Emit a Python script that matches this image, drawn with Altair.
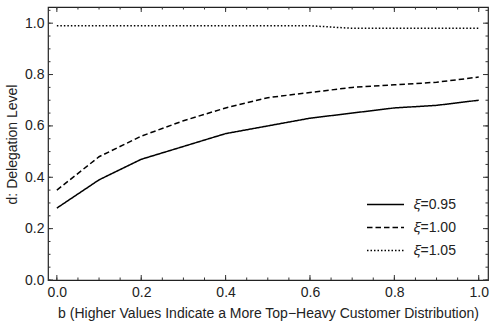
import altair as alt
import pandas as pd

# b values shared by all three curves
b_vals = [0.0, 0.1, 0.2, 0.3, 0.4, 0.5, 0.6, 0.7, 0.8, 0.9, 1.0]

# delegation level d for each xi
d_095 = [0.28, 0.39, 0.47, 0.52, 0.57, 0.60, 0.63, 0.65, 0.67, 0.68, 0.70]
d_100 = [0.35, 0.48, 0.56, 0.62, 0.67, 0.71, 0.73, 0.75, 0.76, 0.77, 0.79]
d_105 = [0.99, 0.99, 0.99, 0.99, 0.99, 0.99, 0.99, 0.98, 0.98, 0.98, 0.98]

series_names = ["\U0001D709=0.95", "\U0001D709=1.00", "\U0001D709=1.05"]
series_dash = [[1, 0], [5.5, 3], [1.5, 2]]

# tick positions for the inward frame ticks
major_ticks = [0.0, 0.2, 0.4, 0.6, 0.8, 1.0]
x_minor_ticks = [round(i * 0.05, 2) for i in range(0, 21)]
y_minor_ticks = [round(i * 0.05, 2) for i in range(0, 22)]

W, H = 440, 273
FONT = "Liberation Sans"
FS = 14

rows = []
for name, ys in zip(series_names, [d_095, d_100, d_105]):
    for b, d in zip(b_vals, ys):
        rows.append({"b": b, "d": d, "xi": name})
df = pd.DataFrame(rows)

x_scale = alt.Scale(domain=[-0.021, 1.022], nice=False, zero=False)
y_scale = alt.Scale(domain=[0.0, 1.063], nice=False, zero=False)

x_axis = alt.Axis(
    values=major_ticks, format=".1f", ticks=False, tickSize=0, domain=False,
    grid=False, labelFont=FONT, labelFontSize=FS, labelColor="#222",
    labelPadding=5,
    title="b (Higher Values Indicate a More Top\u2212Heavy Customer Distribution)",
    titleFont=FONT, titleFontSize=FS, titleFontWeight="normal", titleColor="#222",
    titleX=220, titleY=37.5, titleBaseline="alphabetic", titleAnchor="middle")
y_axis = alt.Axis(
    values=major_ticks, format=".1f", ticks=False, tickSize=0, domain=False,
    grid=False, labelFont=FONT, labelFontSize=FS, labelColor="#222",
    labelPadding=4,
    title="d: Delegation Level",
    titleFont=FONT, titleFontSize=FS, titleFontWeight="normal", titleColor="#222",
    titleX=-36, titleY=137, titleBaseline="middle", titleAngle=-90,
    titleAnchor="middle")

lines = alt.Chart(df).mark_line(color="black", strokeWidth=1.5).encode(
    x=alt.X("b:Q", scale=x_scale, axis=x_axis),
    y=alt.Y("d:Q", scale=y_scale, axis=y_axis),
    strokeDash=alt.StrokeDash("xi:N", scale=alt.Scale(domain=series_names, range=series_dash),
        legend=alt.Legend(
            title=None, orient="none", legendX=329, legendY=189, padding=0,
            symbolType="M-2.5,0L2.5,0", symbolSize=219, symbolStrokeWidth=1.5,
            symbolStrokeColor="black", symbolFillColor="transparent",
            labelFont=FONT, labelFontSize=FS, labelColor="#222",
            labelOffset=19.5, rowPadding=7)),
    detail="xi:N",
)

def tick_layer(values, length, axis):
    t = pd.DataFrame({"v": values})
    base = alt.Chart(t).mark_rule(color="#333", strokeWidth=1)
    if axis == "x":
        enc = alt.X("v:Q", scale=x_scale, axis=x_axis)
        bottom = base.encode(x=enc, y=alt.value(H), y2=alt.value(H - length))
        top = base.encode(x=enc, y=alt.value(0), y2=alt.value(length))
    else:
        enc = alt.Y("v:Q", scale=y_scale, axis=y_axis)
        bottom = base.encode(y=enc, x=alt.value(0), x2=alt.value(length))
        top = base.encode(y=enc, x=alt.value(W), x2=alt.value(W - length))
    return bottom + top

ticks = (tick_layer(major_ticks, 5, "x") + tick_layer(x_minor_ticks, 2.5, "x")
         + tick_layer(major_ticks, 5, "y") + tick_layer(y_minor_ticks, 2.5, "y"))

chart = (lines + ticks).properties(
    width=W, height=H,
    background="white",
    autosize=alt.AutoSizeParams(type="none"),
    padding={"left": 48, "top": 7, "right": 10, "bottom": 43},
).configure_view(stroke="#222", strokeWidth=1.2)

chart.save("out.html", embed_options={"renderer": "svg", "actions": False})
